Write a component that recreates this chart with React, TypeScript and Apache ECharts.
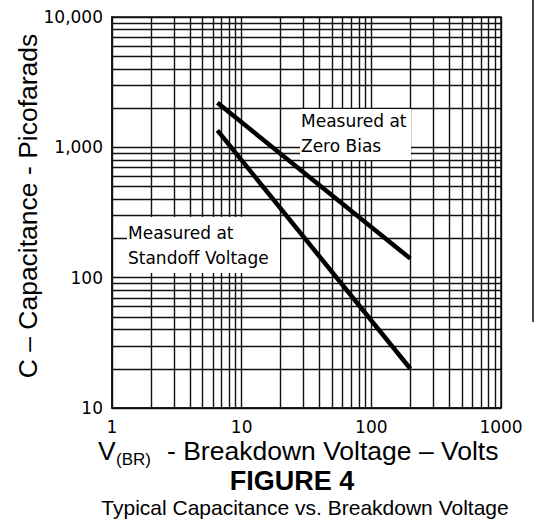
import React, { useEffect, useRef } from "react";
import * as echarts from "echarts";

// ---- data ----
const zeroBiasVolts = [6.5, 200];
const zeroBiasPf = [2200, 140];
const standoffVolts = [6.5, 200];
const standoffPf = [1350, 20];

const xTickLabels = ["1", "10", "100", "1000"];
const yTickLabels = ["10", "1,000", "100", "10,000"];

const xMinorGrid = [2, 3, 4, 5, 6, 7, 8, 9, 20, 30, 40, 50, 60, 70, 80, 90, 200, 300, 400, 500, 600, 700, 800, 900];
const yMinorGrid = [20, 30, 40, 50, 60, 70, 80, 90, 200, 300, 400, 500, 600, 700, 800, 900, 2000, 3000, 4000, 5000, 6000, 7000, 8000, 9000];

const TICK_FONT = "'DejaVu Sans', sans-serif";
const TITLE_FONT = "'Liberation Sans', Arial, sans-serif";

export default function App() {
  const ref = useRef<HTMLDivElement>(null);

  useEffect(() => {
    if (!ref.current) return;
    const chart = echarts.init(ref.current, undefined, { renderer: "svg" });

    const fmtY = (v: number) => {
      const s = Math.round(v).toLocaleString("en-US");
      return yTickLabels.includes(s) ? s : "";
    };
    const fmtX = (v: number) => {
      const s = String(Math.round(v));
      return xTickLabels.includes(s) ? s : "";
    };

    const gridLineStyle = { color: "#111", width: 1.4, type: "solid" as const };
    const annot = (text: string, x: number, y: number) => ({
      type: "text", z: 12, x, y, silent: true,
      style: { text, fill: "#000", fontFamily: TICK_FONT, fontSize: 17, align: "left", verticalAlign: "middle" },
    });

    chart.setOption({
      animation: false,
      backgroundColor: "#fff",
      grid: {
        left: 112,
        right: 37,
        top: 17,
        bottom: 113,
        show: true,
        borderColor: "#111",
        borderWidth: 1.5,
        backgroundColor: "transparent",
      },
      xAxis: {
        type: "log",
        logBase: 10,
        min: 1,
        max: 1000,
        axisLine: { show: true, lineStyle: { color: "#111", width: 1.5 } },
        axisTick: { show: false },
        splitLine: { show: true, lineStyle: gridLineStyle },
        axisLabel: {
          formatter: fmtX,
          color: "#000",
          fontFamily: TICK_FONT,
          fontSize: 17,
          margin: 10,
          showMinLabel: true,
          showMaxLabel: true,
        },
      },
      yAxis: {
        type: "log",
        logBase: 10,
        min: 10,
        max: 10000,
        axisLine: { show: true, lineStyle: { color: "#111", width: 1.5 } },
        axisTick: { show: false },
        splitLine: { show: true, lineStyle: gridLineStyle },
        axisLabel: {
          formatter: fmtY,
          color: "#000",
          fontFamily: TICK_FONT,
          fontSize: 17,
          margin: 9,
          showMinLabel: true,
          showMaxLabel: true,
        },
      },
      series: [
        {
          type: "line",
          name: "grid",
          data: [],
          z: 1,
          silent: true,
          markLine: {
            z: 1,
            silent: true,
            symbol: ["none", "none"],
            label: { show: false },
            lineStyle: gridLineStyle,
            emphasis: { disabled: true },
            data: [
              ...xMinorGrid.map((v) => ({ xAxis: v })),
              ...yMinorGrid.map((v) => ({ yAxis: v })),
            ],
          },
        },
        {
          type: "line",
          name: "Zero Bias",
          z: 10,
          symbol: "none",
          silent: true,
          lineStyle: { color: "#000", width: 4.5, cap: "butt" },
          data: zeroBiasVolts.map((v, i) => [v, zeroBiasPf[i]]),
        },
        {
          type: "line",
          name: "Standoff Voltage",
          z: 10,
          symbol: "none",
          silent: true,
          lineStyle: { color: "#000", width: 4.5, cap: "butt" },
          data: standoffVolts.map((v, i) => [v, standoffPf[i]]),
        },
      ],
      graphic: [
        // white boxes behind annotation text
        { type: "rect", z: 6, silent: true, shape: { x: 300, y: 109, width: 111, height: 51 }, style: { fill: "#fff" } },
        { type: "rect", z: 6, silent: true, shape: { x: 127, y: 217, width: 153, height: 56 }, style: { fill: "#fff" } },
        annot("Measured at", 301, 121),
        annot("Zero Bias", 301, 146),
        annot("Measured at", 128, 233),
        annot("Standoff Voltage", 128, 258),
        // y-axis title
        {
          type: "text", z: 12, x: 28, y: 206, rotation: Math.PI / 2,
          style: { text: "C – Capacitance - Picofarads", fill: "#000", fontFamily: TITLE_FONT, fontSize: 26.5, align: "center", verticalAlign: "middle" },
        },
        // x-axis title
        { type: "text", z: 12, x: 98, y: 451, style: { text: "V", fill: "#000", fontFamily: TITLE_FONT, fontSize: 26.5, align: "left", verticalAlign: "middle" } },
        { type: "text", z: 12, x: 116, y: 459, style: { text: "(BR)", fill: "#000", fontFamily: TITLE_FONT, fontSize: 17, align: "left", verticalAlign: "middle" } },
        { type: "text", z: 12, x: 167, y: 451, style: { text: "- Breakdown Voltage – Volts", fill: "#000", fontFamily: TITLE_FONT, fontSize: 26.5, align: "left", verticalAlign: "middle" } },
        // figure caption
        { type: "text", z: 12, x: 292, y: 481, style: { text: "FIGURE 4", fill: "#000", fontFamily: TITLE_FONT, fontWeight: "bold", fontSize: 27, align: "center", verticalAlign: "middle" } },
        { type: "text", z: 12, x: 305, y: 507, style: { text: "Typical Capacitance vs. Breakdown Voltage", fill: "#000", fontFamily: TITLE_FONT, fontSize: 21, align: "center", verticalAlign: "middle" } },
        // right page edge line
        { type: "line", z: 12, silent: true, shape: { x1: 533, y1: 0, x2: 533, y2: 322 }, style: { stroke: "#4a4440", lineWidth: 2 } },
      ],
    });

    return () => chart.dispose();
  }, []);

  return (
    <div
      ref={ref}
      style={{ position: "fixed", left: 0, top: 0, width: 538, height: 521, background: "#fff" }}
    />
  );
}
